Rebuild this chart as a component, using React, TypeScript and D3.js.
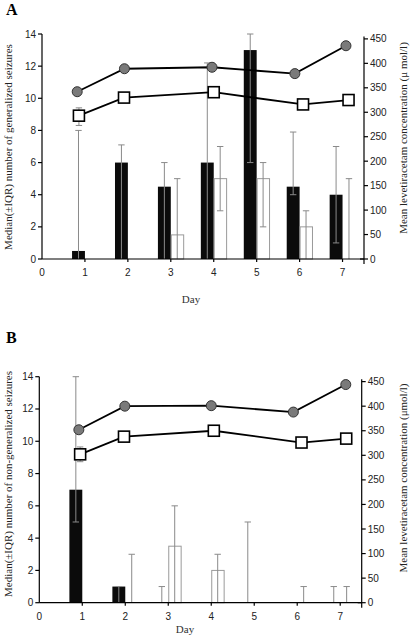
import React from "react";
import * as d3 from "d3";

// ---------- DATA ----------
const days = [1, 2, 3, 4, 5, 6, 7];
const leftTicks = [0, 2, 4, 6, 8, 10, 12, 14];
const rightTicks = [0, 50, 100, 150, 200, 250, 300, 350, 400, 450];
const xTicks = [0, 1, 2, 3, 4, 5, 6, 7];

// Panel A (generalized seizures)
const aBlackMedian = [0.5, 6, 4.5, 6, 13, 4.5, 4];
const aBlackLower: (number | null)[] = [0, 0, 0, 0, 6, 4, 1];
const aBlackUpper: (number | null)[] = [8, 7.1, 6, 12.2, 14, 7.9, 7];
const aWhiteMedian = [0, 0, 1.5, 5, 5, 2, 0];
const aWhiteLower: (number | null)[] = [null, null, 0, 3, 2, 0, 0];
const aWhiteUpper: (number | null)[] = [null, null, 5, 7, 6, 3, 5];
const aCircleDay = [0.82, 1.92, 3.96, 5.89, 7.08];
const aCircleConc = [342, 389, 392, 379, 436];
const aSquareDay = [0.86, 1.91, 4.0, 6.08, 7.14];
const aSquareConc = [293, 330, 341, 316, 325];
const aSquareErrLow: (number | null)[] = [273, null, null, null, null];
const aSquareErrHigh: (number | null)[] = [309, null, null, null, null];

// Panel B (non-generalized seizures)
const bBlackMedian = [7, 1, 0, 0, 0, 0, 0];
const bBlackLower: (number | null)[] = [5, 0, 0, null, 0, null, 0];
const bBlackUpper: (number | null)[] = [14, 1, 1, null, 5, null, 1];
const bWhiteMedian = [0, 0, 3.5, 2, 0, 0, 0];
const bWhiteLower: (number | null)[] = [null, 0, 0, 0, null, 0, 0];
const bWhiteUpper: (number | null)[] = [null, 3, 6, 3, null, 1, 1];
const bCircleDay = [0.92, 1.99, 4.0, 5.91, 7.13];
const bCircleConc = [352, 400, 401, 388, 444];
const bSquareDay = [0.95, 1.97, 4.06, 6.1, 7.14];
const bSquareConc = [302, 338, 350, 326, 334];
const bSquareErrLow: (number | null)[] = [287, null, null, null, null];
const bSquareErrHigh: (number | null)[] = [317, null, null, null, null];

const serif = "'Liberation Serif', 'DejaVu Serif', serif";
const sans = "'Liberation Sans', Arial, sans-serif";

type PanelProps = {
  letter: string;
  letterY: number;
  x0: number;
  x1: number;
  yTop: number;
  yBottom: number;
  leftLabel: string;
  rightLabel: string;
  leftLabelY: number;
  rightLabelY: number;
  dayY: number;
  dayX: number;
  blackMedian: number[];
  blackLower: (number | null)[];
  blackUpper: (number | null)[];
  whiteMedian: number[];
  whiteLower: (number | null)[];
  whiteUpper: (number | null)[];
  circleDay: number[];
  circleConc: number[];
  squareDay: number[];
  squareConc: number[];
  squareErrLow: (number | null)[];
  squareErrHigh: (number | null)[];
};

function Panel(p: PanelProps) {
  const x = d3.scaleLinear().domain([0, 7.5]).range([p.x0, p.x1]);
  const y = d3.scaleLinear().domain([0, 14]).range([p.yBottom, p.yTop]);
  const yr = d3.scaleLinear().domain([0, 460]).range([p.yBottom, p.yTop]);
  const bw = 0.3;
  const errColor = "#8a8a8a";
  const cap = 3.2;

  const lineGen = d3
    .line<[number, number]>()
    .x((d) => x(d[0]))
    .y((d) => yr(d[1]));

  const circlePts: [number, number][] = p.circleDay.map((d, i) => [d, p.circleConc[i]]);
  const squarePts: [number, number][] = p.squareDay.map((d, i) => [d, p.squareConc[i]]);

  const errBar = (cx: number, lo: number | null, hi: number | null, key: string, scale = y) => {
    if (lo == null || hi == null) return null;
    const y1 = scale(lo);
    const y2 = scale(hi);
    return (
      <g key={key} stroke={errColor} strokeWidth={1}>
        <line x1={cx} x2={cx} y1={y1} y2={y2} />
        <line x1={cx - cap} x2={cx + cap} y1={y2} y2={y2} />
        {lo > 0 && <line x1={cx - cap} x2={cx + cap} y1={y1} y2={y1} />}
      </g>
    );
  };

  return (
    <g>
      <text x={6} y={p.letterY} fontFamily={serif} fontWeight="bold" fontSize={16}>
        {p.letter}
      </text>

      {/* bars */}
      {days.map((d, i) =>
        p.blackMedian[i] > 0 ? (
          <rect
            key={"b" + d}
            x={x(d - bw)}
            y={y(p.blackMedian[i])}
            width={x(d) - x(d - bw)}
            height={y(0) - y(p.blackMedian[i])}
            fill="#0b0b0b"
          />
        ) : null
      )}
      {days.map((d, i) =>
        p.whiteMedian[i] > 0 ? (
          <rect
            key={"w" + d}
            x={x(d) + 0.5}
            y={y(p.whiteMedian[i])}
            width={x(d + bw) - x(d) - 0.5}
            height={y(0) - y(p.whiteMedian[i])}
            fill="#fff"
            stroke="#9a9a9a"
            strokeWidth={1}
          />
        ) : null
      )}

      {/* error bars */}
      {days.map((d, i) => errBar(x(d - bw / 2), p.blackLower[i], p.blackUpper[i], "eb" + d))}
      {days.map((d, i) => errBar(x(d + bw / 2), p.whiteLower[i], p.whiteUpper[i], "ew" + d))}
      {p.squareDay.map((d, i) =>
        errBar(x(d), p.squareErrLow[i], p.squareErrHigh[i], "es" + i, yr)
      )}

      {/* axes */}
      <g stroke="#000" strokeWidth={1.2} fill="none">
        <line x1={p.x0} x2={p.x0} y1={p.yTop} y2={p.yBottom} />
        <line x1={p.x1} x2={p.x1} y1={yr(455)} y2={p.yBottom + 5} />
        <line x1={p.x0} x2={p.x1} y1={p.yBottom} y2={p.yBottom} />
        {leftTicks.map((t) => (
          <line key={"lt" + t} x1={p.x0 - 4} x2={p.x0} y1={y(t)} y2={y(t)} />
        ))}
        {rightTicks.map((t) => (
          <line key={"rt" + t} x1={p.x1} x2={p.x1 + 4} y1={yr(t)} y2={yr(t)} />
        ))}
        {xTicks.slice(1).map((t) => (
          <line key={"xt" + t} x1={x(t)} x2={x(t)} y1={p.yBottom} y2={p.yBottom + 3} />
        ))}
        <line x1={p.x1 - 4} x2={p.x1} y1={p.yBottom} y2={p.yBottom} />
      </g>
      <g fontFamily={sans} fontSize={10} fill="#222">
        {leftTicks.map((t) => (
          <text key={"ll" + t} x={p.x0 - 6} y={y(t) + 3.5} textAnchor="end">
            {t}
          </text>
        ))}
        {rightTicks.map((t) => (
          <text key={"rl" + t} x={p.x1 + 6} y={yr(t) + 3.5} textAnchor="start">
            {t}
          </text>
        ))}
        {xTicks.map((t) => (
          <text key={"xl" + t} x={x(t)} y={p.yBottom + 17} textAnchor="middle">
            {t}
          </text>
        ))}
      </g>

      {/* lines */}
      <path d={lineGen(circlePts) || ""} fill="none" stroke="#000" strokeWidth={1.8} />
      <path d={lineGen(squarePts) || ""} fill="none" stroke="#000" strokeWidth={1.8} />
      {circlePts.map((c, i) => (
        <circle key={"c" + i} cx={x(c[0])} cy={yr(c[1])} r={5} fill="#7a7a7a" stroke="#333" strokeWidth={1} />
      ))}
      {squarePts.map((s, i) => (
        <rect
          key={"s" + i}
          x={x(s[0]) - 5.5}
          y={yr(s[1]) - 5.5}
          width={11}
          height={11}
          fill="#fff"
          stroke="#000"
          strokeWidth={1.6}
        />
      ))}

      {/* labels */}
      <text
        transform={`translate(12, ${p.leftLabelY}) rotate(-90)`}
        textAnchor="middle"
        fontFamily={serif}
        fontSize={11}
        fill="#222"
      >
        {p.leftLabel}
      </text>
      <text
        transform={`translate(407, ${p.rightLabelY}) rotate(-90)`}
        textAnchor="middle"
        fontFamily={serif}
        fontSize={11}
        fill="#222"
      >
        {p.rightLabel}
      </text>
      <text x={p.dayX} y={p.dayY} textAnchor="middle" fontFamily={serif} fontSize={11} fill="#333">
        Day
      </text>
    </g>
  );
}

export default function App() {
  return (
    <svg
      width={410}
      height={640}
      style={{ position: "absolute", left: 0, top: 0, background: "#fff" }}
    >
      <Panel
        letter="A"
        letterY={15}
        x0={42}
        x1={364}
        yTop={34}
        yBottom={259}
        leftLabel="Median(±IQR) number of generalized seizures"
        rightLabel="Mean levetiracetam concentration (μ mol/l)"
        leftLabelY={147}
        rightLabelY={138}
        dayX={191}
        dayY={303}
        blackMedian={aBlackMedian}
        blackLower={aBlackLower}
        blackUpper={aBlackUpper}
        whiteMedian={aWhiteMedian}
        whiteLower={aWhiteLower}
        whiteUpper={aWhiteUpper}
        circleDay={aCircleDay}
        circleConc={aCircleConc}
        squareDay={aSquareDay}
        squareConc={aSquareConc}
        squareErrLow={aSquareErrLow}
        squareErrHigh={aSquareErrHigh}
      />
      <Panel
        letter="B"
        letterY={343}
        x0={39.3}
        x1={361.7}
        yTop={376.7}
        yBottom={602.7}
        leftLabel="Median(±IQR) number of non-generalized seizures"
        rightLabel="Mean levetiracetam concentration (μmol/l)"
        leftLabelY={484}
        rightLabelY={478}
        dayX={185}
        dayY={633}
        blackMedian={bBlackMedian}
        blackLower={bBlackLower}
        blackUpper={bBlackUpper}
        whiteMedian={bWhiteMedian}
        whiteLower={bWhiteLower}
        whiteUpper={bWhiteUpper}
        circleDay={bCircleDay}
        circleConc={bCircleConc}
        squareDay={bSquareDay}
        squareConc={bSquareConc}
        squareErrLow={bSquareErrLow}
        squareErrHigh={bSquareErrHigh}
      />
    </svg>
  );
}
